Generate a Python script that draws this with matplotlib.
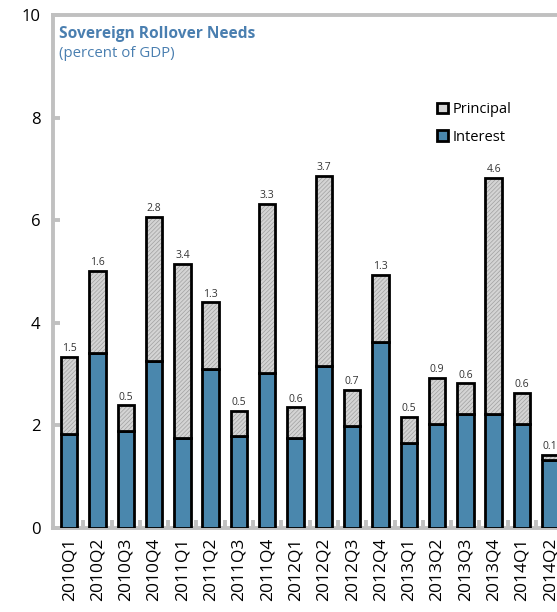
"""Sovereign rollover needs, stacked bars of interest and principal."""

import matplotlib

matplotlib.use("Agg")
import matplotlib.pyplot as plt
from matplotlib.patches import Patch

plt.rcParams["font.family"] = ["Open Sans", "DejaVu Sans"]
plt.rcParams["hatch.linewidth"] = 0.5

QUARTERS = [
    "2010Q1", "2010Q2", "2010Q3", "2010Q4",
    "2011Q1", "2011Q2", "2011Q3", "2011Q4",
    "2012Q1", "2012Q2", "2012Q3", "2012Q4",
    "2013Q1", "2013Q2", "2013Q3", "2013Q4",
    "2014Q1", "2014Q2",
]
INTEREST = [1.83, 3.41, 1.89, 3.26, 1.75, 3.10, 1.79, 3.02, 1.75,
            3.16, 1.99, 3.63, 1.66, 2.03, 2.22, 2.22, 2.03, 1.32]
PRINCIPAL = [1.5, 1.6, 0.5, 2.8, 3.4, 1.3, 0.5, 3.3, 0.6,
             3.7, 0.7, 1.3, 0.5, 0.9, 0.6, 4.6, 0.6, 0.1]

BLUE = "#4a87ad"
GREY = "#d4d4d4"
SPINE = "#c0c0c0"
TITLE_BLUE = "#4a7fb0"

fig = plt.figure(figsize=(5.57, 6.12), dpi=100)
W, H = 557, 612
ax_left, ax_top, ax_bottom = 53, 15, 528
x0, x1 = -0.57, 17.9
step = 28.3
ax_width = (x1 - x0) * step
ax = fig.add_axes([ax_left / W, (H - ax_bottom) / H,
                   ax_width / W, (ax_bottom - ax_top) / H])

x = list(range(len(QUARTERS)))
width = 0.58
edge_lw = 2.0

ax.bar(x, INTEREST, width=width, color=BLUE, edgecolor="black", linewidth=edge_lw, zorder=3)
ax.bar(x, PRINCIPAL, width=width, bottom=INTEREST, color=GREY, edgecolor="#a0a0a0",
       hatch="////////", linewidth=0, zorder=3)
ax.bar(x, PRINCIPAL, width=width, bottom=INTEREST, facecolor="none", edgecolor="black",
       linewidth=edge_lw, zorder=4)

for xi, i_val, p_val in zip(x, INTEREST, PRINCIPAL):
    ax.annotate(f"{p_val:.1f}", (xi, i_val + p_val), xytext=(0, 2),
                textcoords="offset points", ha="center", va="bottom",
                fontsize=7.5, color="#333333", zorder=5)

ax.set_xlim(x0, x1)
ax.set_ylim(0, 10)
ax.set_yticks([0, 2, 4, 6, 8, 10])
ax.tick_params(axis="y", direction="in", length=5, width=2.8, color=SPINE,
               labelsize=12, pad=9)
ax.set_xticks(x)
ax.set_xticklabels(QUARTERS, rotation=90, fontsize=12.5)
ax.tick_params(axis="x", length=0, pad=7)
ax.set_xticks([i + 0.5 for i in x], minor=True)
ax.tick_params(axis="x", which="minor", direction="in", length=6, width=2.8, color=SPINE)

for side in ("left", "bottom", "top"):
    ax.spines[side].set_color(SPINE)
    ax.spines[side].set_linewidth(2.8)
ax.spines["right"].set_visible(False)

ax.text(0.012, 0.979, "Sovereign Rollover Needs", transform=ax.transAxes,
        fontsize=11.2, fontweight="bold", color=TITLE_BLUE, va="top", ha="left")
ax.text(0.012, 0.94, "(percent of GDP)", transform=ax.transAxes,
        fontsize=10.8, color=TITLE_BLUE, va="top", ha="left")

handles = [Patch(facecolor=GREY, edgecolor="black", linewidth=2.0),
           Patch(facecolor=BLUE, edgecolor="black", linewidth=2.0)]
ax.legend(handles, ["Principal", "Interest"], loc="upper left",
          bbox_to_anchor=((430 - ax_left) / ax_width, (ax_bottom - 95) / (ax_bottom - ax_top)),
          frameon=False, fontsize=10.5, handlelength=0.7, handleheight=0.7,
          handletextpad=0.35, labelspacing=0.85, borderpad=0)

fig.savefig("out.png", dpi=100)
